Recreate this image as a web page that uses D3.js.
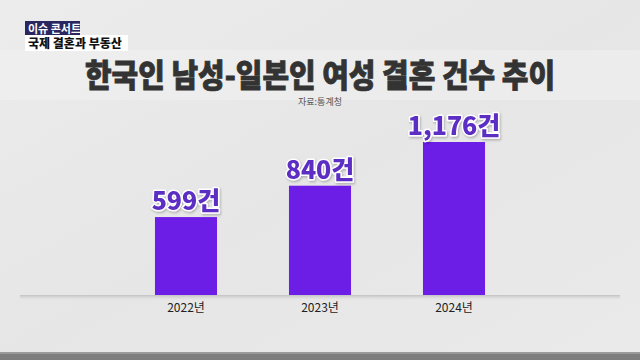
<!DOCTYPE html>
<html><head><meta charset="utf-8">
<script src="https://cdn.jsdelivr.net/npm/d3@7"></script>
<style>
html,body{margin:0;padding:0;background:#e9e9e9;}
svg{display:block;}
</style></head>
<body><svg id="c" width="640" height="360"></svg>
<script>
const years = ["2022년", "2023년", "2024년"];
const values = [599, 840, 1176];
const valueLabels = ["599건", "840건", "1,176건"];
const title = "한국인 남성-일본인 여성 결혼 건수 추이";
const source = "자료:통계청";
const badgeTop = "이슈 콘서트";
const badgeBottom = "국제 결혼과 부동산";

const svg = d3.select("#c");
const W = 640, H = 360;
const font = "'Noto Sans CJK KR', 'Noto Sans', sans-serif";

const defs = svg.append("defs");
const bg = defs.append("linearGradient").attr("id","bg").attr("x1",0).attr("y1",0).attr("x2",1).attr("y2",1);
bg.append("stop").attr("offset","0").attr("stop-color","#ececec");
bg.append("stop").attr("offset","0.5").attr("stop-color","#e6e6e6");
bg.append("stop").attr("offset","1").attr("stop-color","#eaeaea");
const sh = defs.append("linearGradient").attr("id","sh").attr("x1",0).attr("y1",0).attr("x2",0).attr("y2",1);
sh.append("stop").attr("offset","0").attr("stop-color","#bdbdbd").attr("stop-opacity",0.9);
sh.append("stop").attr("offset","1").attr("stop-color","#d8d8d8").attr("stop-opacity",0);
const f = defs.append("filter").attr("id","ds").attr("x","-20%").attr("y","-20%").attr("width","140%").attr("height","140%");
f.append("feDropShadow").attr("dx",1).attr("dy",1.5).attr("stdDeviation",1).attr("flood-color","#000").attr("flood-opacity",0.25);

svg.append("rect").attr("width",W).attr("height",H).attr("fill","url(#bg)");
svg.append("rect").attr("x",0).attr("y",50).attr("width",W).attr("height",50).attr("fill","#f0f0f0").attr("opacity",0.6);
svg.append("rect").attr("x",0).attr("y",352).attr("width",W).attr("height",8).attr("fill","#9a9a9a");
svg.append("rect").attr("x",0).attr("y",354).attr("width",W).attr("height",6).attr("fill","#7d7d7d");

// badge
svg.append("rect").attr("x",25).attr("y",21).attr("width",55).attr("height",14).attr("fill","#2a2760");
svg.append("text").attr("x",28).attr("y",32.5).attr("font-family",font).attr("font-weight",700)
  .attr("font-size",11).attr("fill","#fff").text(badgeTop);
svg.append("rect").attr("x",25).attr("y",35).attr("width",103).attr("height",16).attr("fill","#fff");
svg.append("text").attr("x",28).attr("y",48).attr("font-family",font).attr("font-weight",900)
  .attr("font-size",12).attr("fill","#111").text(badgeBottom);

// title
svg.append("text").attr("x",320).attr("y",87).attr("text-anchor","middle")
  .attr("font-family",font).attr("font-weight",900).attr("font-size",32).attr("fill","#333")
  .attr("stroke","#333").attr("stroke-width",0.8)
  .attr("textLength",470).attr("lengthAdjust","spacingAndGlyphs").text(title);
svg.append("text").attr("x",320).attr("y",105).attr("text-anchor","middle")
  .attr("font-family",font).attr("font-size",9).attr("fill","#555").text(source);

// scales
const x = d3.scaleBand().domain(years).range([120, 520]).paddingInner(0.537).paddingOuter(0.261);
const y = d3.scaleLinear().domain([0, 1176]).range([295, 142]);

svg.append("rect").attr("x",20).attr("y",295).attr("width",600).attr("height",5).attr("fill","url(#sh)");

const g = svg.append("g");
g.selectAll("rect.bar").data(values).join("rect").attr("class","bar")
  .attr("x",(d,i)=>x(years[i])).attr("width",x.bandwidth())
  .attr("y",d=>y(d)).attr("height",d=>y(0)-y(d)).attr("fill","#6c1ee6");

g.selectAll("text.val").data(values).join("text").attr("class","val")
  .attr("x",(d,i)=>x(years[i])+x.bandwidth()/2).attr("y",d=>y(d)-7)
  .attr("text-anchor","middle").attr("font-family",font).attr("font-weight",900).attr("font-size",25)
  .attr("fill","#5b2ec4").attr("stroke","#fff").attr("stroke-width",3).attr("paint-order","stroke")
  .attr("stroke-linejoin","round").attr("filter","url(#ds)")
  .text((d,i)=>valueLabels[i]);

const ax = svg.append("g").attr("transform","translate(0,295)")
  .call(d3.axisBottom(x).tickSize(0).tickPadding(6));
ax.select(".domain").remove();
ax.selectAll("text").attr("font-family",font).attr("font-size",12).attr("fill","#222").attr("dy","0.9em");
</script></body></html>
